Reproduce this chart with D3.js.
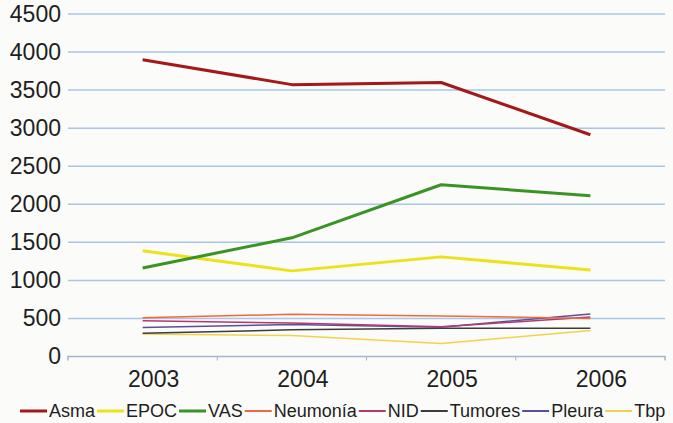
<!DOCTYPE html>
<html>
<head>
<meta charset="utf-8">
<script src="https://cdn.jsdelivr.net/npm/d3@7"></script>
<style>
  html, body { margin: 0; padding: 0; background: #fbfbf9; }
  svg { display: block; }
  text { font-family: "Liberation Sans", Arial, sans-serif; fill: #1e1e1e; }
</style>
</head>
<body>
<svg id="chart" width="673" height="423"></svg>
<script>
// Years on the category axis
const years = ["2003", "2004", "2005", "2006"];
// Y axis tick values
const yTicks = [0, 500, 1000, 1500, 2000, 2500, 3000, 3500, 4000, 4500];

// Series values per year
const asma     = [3900, 3572, 3600, 2914];
const epoc     = [1388, 1125, 1309, 1138];
const vas      = [1164, 1559, 2257, 2112];
const neumonia = [510, 555, 533, 500];
const nid      = [470, 440, 390, 520];
const tumores  = [305, 350, 370, 370];
const pleura   = [380, 420, 385, 560];
const tbp      = [295, 275, 170, 340];

const seriesNames  = ["Asma", "EPOC", "VAS", "Neumonía", "NID", "Tumores", "Pleura", "Tbp"];
const seriesValues = [asma, epoc, vas, neumonia, nid, tumores, pleura, tbp];
const seriesColors = ["#a3191b", "#ece21a", "#3a9325", "#ec6a40", "#b13a6e", "#3c3c3c", "#5b4f9c", "#f2d24c"];
const seriesWidths = [3, 3, 3, 1.5, 1.5, 1.5, 1.5, 1.5];

const svg = d3.select("#chart");

const x = d3.scaleBand().domain(years).range([68, 665]);
const y = d3.scaleLinear().domain([0, 4500]).range([356.5, 14]);

// Horizontal gridlines
svg.append("g")
  .selectAll("line")
  .data(yTicks.filter(d => d > 0))
  .join("line")
  .attr("x1", 68).attr("x2", 665)
  .attr("y1", d => y(d)).attr("y2", d => y(d))
  .attr("stroke", "#a9c6e4")
  .attr("stroke-width", 1.5);

// Y axis labels
const yAxis = d3.axisLeft(y).tickValues(yTicks).tickSize(0).tickPadding(0).tickFormat(d3.format("d"));
svg.append("g")
  .attr("transform", "translate(61,0)")
  .call(yAxis)
  .call(g => g.select(".domain").remove())
  .call(g => g.selectAll("text")
    .attr("font-size", 23)
    .attr("font-family", "Liberation Sans, Arial, sans-serif")
    .attr("fill", "#1e1e1e"));

// X axis: baseline with category separators
const xAxis = d3.axisBottom(x).tickSize(0).tickPadding(0);
const xg = svg.append("g")
  .attr("transform", `translate(0,${y(0)})`)
  .call(xAxis);
xg.select(".domain").attr("stroke", "#a3b6cc").attr("stroke-width", 1.5)
  .attr("d", `M68,4V0H665V4`);
xg.selectAll(".tick text")
  .attr("font-size", 23)
  .attr("font-family", "Liberation Sans, Arial, sans-serif")
  .attr("fill", "#1e1e1e")
  .attr("dx", 11)
  .attr("dy", 0)
  .attr("y", 30);
svg.append("g")
  .selectAll("line")
  .data(years.slice(1))
  .join("line")
  .attr("x1", d => x(d)).attr("x2", d => x(d))
  .attr("y1", y(0)).attr("y2", y(0) + 4)
  .attr("stroke", "#a3b6cc")
  .attr("stroke-width", 1);

// Series lines (thin ones first, main series on top)
const line = d3.line()
  .x((d, i) => x(years[i]) + x.bandwidth() / 2)
  .y(d => y(d));

const order = [7, 5, 6, 4, 3, 1, 2, 0];
svg.append("g")
  .selectAll("path")
  .data(order)
  .join("path")
  .attr("d", i => line(seriesValues[i]))
  .attr("fill", "none")
  .attr("stroke", i => seriesColors[i])
  .attr("stroke-width", i => seriesWidths[i])
  .attr("stroke-linejoin", "round");

// Legend along the bottom
const legend = svg.append("g").attr("transform", "translate(0,411)");
let cx = 20;
seriesNames.forEach((name, i) => {
  legend.append("line")
    .attr("x1", cx).attr("x2", cx + 27)
    .attr("y1", 0).attr("y2", 0)
    .attr("stroke", seriesColors[i])
    .attr("stroke-width", i < 3 ? 3 : 2);
  const t = legend.append("text")
    .attr("x", cx + 29)
    .attr("y", 6)
    .attr("font-size", 18)
    .text(name);
  cx += 29 + t.node().getComputedTextLength() + 2;
});
</script>
</body>
</html>
